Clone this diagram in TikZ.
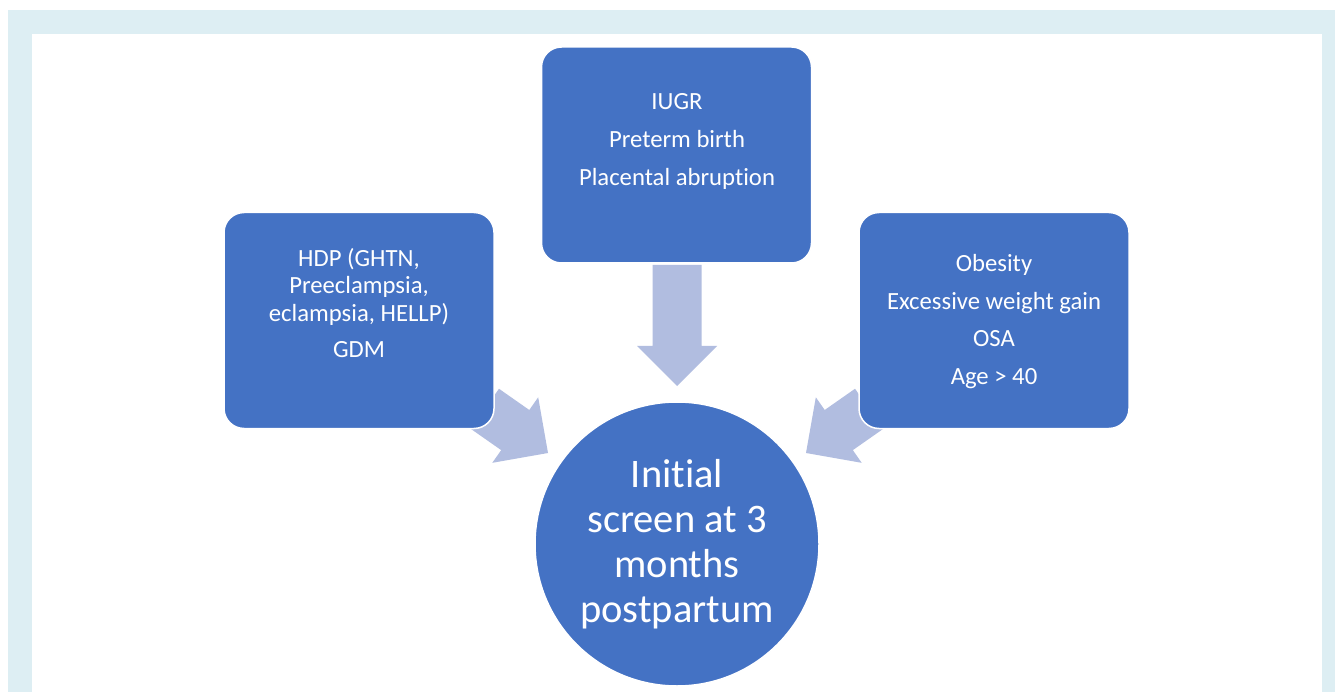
\documentclass[tikz,border=0pt]{standalone}
\usepackage{fontspec}
\setmainfont{Carlito}[Ligatures = {NoCommon, NoContextual, NoRequired}]

\definecolor{frameblue}{HTML}{DDEEF3}
\definecolor{boxblue}{HTML}{4472C4}
\definecolor{arrowblue}{HTML}{B1BDE0}

\tikzset{
	riskbox/.style = {draw = white, line width = 1.5pt, fill = boxblue, rounded corners = 20pt, minimum width = 270pt, minimum height = 216pt, inner sep = 0pt},
	risktext/.style = {text = white, align = center, inner sep = 0pt, font = \fontsize{24.7}{27.5}\selectfont},
	screencircle/.style = {circle, draw = white, line width = 1.5pt, fill = boxblue, minimum size = 284pt, inner sep = 0pt},
	screentext/.style = {text = white, align = center, inner sep = 0pt, font = \fontsize{40.5}{45}\selectfont}
}

% Block arrow: tip, direction, total length

\newcommand{\blockarrow}[3]{%
	\pgfmathsetmacro{\shaft}{#3 - 40}
	\fill [arrowblue] (#1) -- ++ (#2 + 135 : 56.57pt) -- ++ (#2 - 90 : 15.5pt) -- ++ (#2 + 180 : \shaft pt)
		-- ++ (#2 - 90 : 49pt) -- ++ (#2 : \shaft pt) -- ++ (#2 - 90 : 15.5pt) -- cycle;
}

\begin{document}
\begin{tikzpicture}[x = 1pt, y = -1pt]

	\useasboundingbox (0, 0) rectangle (1335, 692);

	% Frame
	
	\fill [frameblue] (8, 10) rectangle (1335, 692);
	\fill [white] (32, 34) rectangle (1322, 692);
	
	% Arrows (under the boxes)
	
	\coordinate (tip-top) at (677, 386);
	\coordinate (tip-left) at (548, 453);
	\coordinate (tip-right) at (806, 453);
	
	\blockarrow{tip-top}{-90}{121}
	\blockarrow{tip-left}{-35}{77}
	\blockarrow{tip-right}{-145}{77}
	
	% Risk factor boxes
	
	\node [riskbox] (fetal) at (676.5, 155) {};
	\node [riskbox] (maternal) at (359, 320.5) {};
	\node [riskbox] (metabolic) at (994, 320.5) {};
	
	\node [risktext] (fetal-text) at (677, 141) {IUGR\\[10.5pt] Preterm birth\\[10.5pt] Placental abruption};
	\node [risktext] (maternal-text) at (359, 303) {HDP (GHTN,\\ Preeclampsia,\\ eclampsia, HELLP)\\[9pt] GDM};
	\node [risktext] (metabolic-text) at (994, 321.5) {Obesity\\[10pt] Excessive weight gain\\[10pt] OSA\\[10pt] Age > 40};
	
	% Screening
	
	\node [screencircle] (screen) at (677, 544) {};
	\node [screentext] (screen-text) at (677, 544) {Initial\\ screen at 3\\ months\\ postpartum};

\end{tikzpicture}
\end{document}
